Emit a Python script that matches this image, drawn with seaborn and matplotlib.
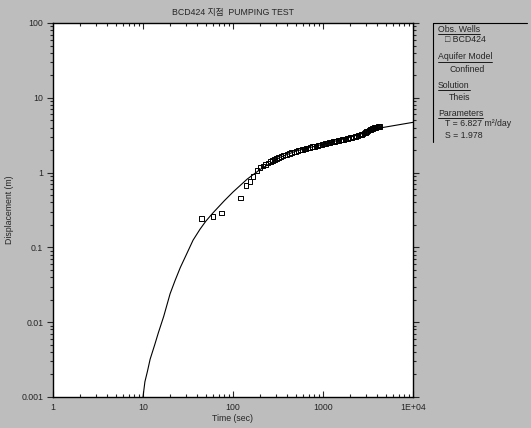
import matplotlib
matplotlib.use("Agg")
import matplotlib.pyplot as plt
from matplotlib.lines import Line2D
from matplotlib.ticker import LogLocator, FixedLocator, FixedFormatter, NullFormatter
import seaborn as sns
import pandas as pd

# observed drawdown (squares)
obs_time = [45, 60, 75, 122, 139, 154, 167, 185, 200, 215, 230, 245, 260, 275, 290,
            305, 320, 340, 360, 380, 400, 425, 450, 475, 500, 530, 560, 590, 620, 650,
            680, 720, 760, 800, 840, 880, 920, 970, 1020, 1070, 1120, 1180, 1240, 1300,
            1360, 1420, 1490, 1560, 1630, 1700, 1780, 1860, 1940, 2020, 2100, 2190, 2280,
            2370, 2460, 2560, 2660, 2760, 2860, 2960, 3060, 3160, 3260, 3360, 3460, 3560,
            3660, 3760, 3860, 3960, 4060, 4160, 4260]
obs_draw = [0.245, 0.26, 0.29, 0.46, 0.67, 0.76, 0.89, 1.06, 1.16, 1.22, 1.29, 1.34, 1.40, 1.44, 1.49,
            1.54, 1.58, 1.63, 1.68, 1.72, 1.76, 1.81, 1.85, 1.89, 1.92, 1.97, 2.01, 2.04, 2.08, 2.11,
            2.14, 2.18, 2.22, 2.25, 2.28, 2.31, 2.34, 2.38, 2.42, 2.45, 2.49, 2.52, 2.56, 2.59,
            2.62, 2.66, 2.69, 2.73, 2.76, 2.79, 2.83, 2.87, 2.90, 2.94, 2.97, 3.01, 3.05,
            3.09, 3.14, 3.19, 3.24, 3.30, 3.38, 3.45, 3.55, 3.62, 3.70, 3.76, 3.82, 3.88,
            3.93, 3.98, 4.02, 4.05, 4.08, 4.10, 4.12]

# Theis type curve
fit_time = [10, 10.5, 11.2, 12, 13.5, 14.8, 17, 20, 22.7, 26, 30, 36, 43, 50, 60, 80,
            100, 144, 200, 333, 500, 776, 1000, 1820, 2800, 4300, 10000]
fit_draw = [0.001, 0.0016, 0.0022, 0.0032, 0.005, 0.0072, 0.012, 0.024, 0.036, 0.054, 0.078,
            0.125, 0.175, 0.225, 0.29, 0.42, 0.55, 0.82, 1.1, 1.6, 1.94, 2.22, 2.4, 2.88,
            3.35, 3.95, 4.7]

x_ticks = [1, 10, 100, 1000, 10000]
x_labels = ["1", "10", "100", "1000", "1E+04"]
y_ticks = [0.001, 0.01, 0.1, 1, 10, 100]
y_labels = ["0.001", "0.01", "0.1", "1", "10", "100"]

legend_text = ["Obs. Wells", "\u25a1 BCD424", "Aquifer Model", "Confined", "Solution",
               "Theis", "Parameters", "T = 6.827 m\u00b2/day", "S = 1.978"]
legend_header = [True, False, True, False, True, False, True, False, False]

obs = pd.DataFrame({"t": obs_time, "s": obs_draw})
fit = pd.DataFrame({"t": fit_time, "s": fit_draw})

sns.set_style("ticks")
plt.rcParams["font.family"] = ["Liberation Sans", "Noto Sans CJK KR", "DejaVu Sans"]
FS = 6.3

W, H = 531, 428
fig = plt.figure(figsize=(W / 100, H / 100), dpi=100)
fig.patch.set_facecolor("#bdbdbd")
ax = fig.add_axes([53 / W, 1 - 397 / H, 360 / W, 374 / H])
ax.set_facecolor("white")

sns.lineplot(data=fit, x="t", y="s", ax=ax, color="black", linewidth=0.8, sort=False)
sns.scatterplot(data=obs, x="t", y="s", ax=ax, marker="s", s=11,
                facecolor="none", edgecolor="black", linewidth=0.7)

ax.set_xscale("log")
ax.set_yscale("log")
ax.set_xlim(1, 10000)
ax.set_ylim(0.001, 100)

ax.xaxis.set_major_locator(FixedLocator(x_ticks))
ax.xaxis.set_major_formatter(FixedFormatter(x_labels))
ax.yaxis.set_major_locator(FixedLocator(y_ticks))
ax.yaxis.set_major_formatter(FixedFormatter(y_labels))
ax.xaxis.set_minor_locator(LogLocator(base=10, subs=range(2, 10)))
ax.yaxis.set_minor_locator(LogLocator(base=10, subs=range(2, 10)))
ax.xaxis.set_minor_formatter(NullFormatter())
ax.yaxis.set_minor_formatter(NullFormatter())

ax.tick_params(axis="x", which="both", direction="in", top=True, labelsize=FS, pad=4, width=0.8)
ax.tick_params(axis="y", which="both", direction="in", right=True, labelsize=FS, pad=3, width=0.8)
ax.tick_params(which="major", length=4)
ax.tick_params(which="minor", length=2.5)
ax.tick_params(axis="y", which="both", left=True, direction="out")
for sp in ax.spines.values():
    sp.set_linewidth(1.0)
    sp.set_color("black")

ax.set_xlabel("Time (sec)", fontsize=FS, labelpad=2)
ax.set_ylabel("Displacement (m)", fontsize=FS, labelpad=5)
ax.set_title("BCD424 지점  PUMPING TEST", fontsize=FS, pad=6)

# legend panel on the right
x0, y0 = 433 / W, 1 - 23 / H
fig.add_artist(Line2D([x0, x0], [y0, 1 - 142 / H], color="black", linewidth=0.8))
fig.add_artist(Line2D([x0, 527 / W], [y0, y0], color="black", linewidth=0.8))
row_y = [29, 40, 57, 69, 85, 97, 113, 124, 135]
indent = {True: 0, False: 7}
fig.canvas.draw()
for text, header, yp in zip(legend_text, legend_header, row_y):
    ind = indent[header] + (4 if text in ("Confined", "Theis") else 0)
    t = fig.text((438 + ind) / W, 1 - yp / H, text, fontsize=FS, va="center", ha="left")
    if header:
        bb = t.get_window_extent(renderer=fig.canvas.get_renderer())
        yl = 1 - (yp + 4.5) / H
        fig.add_artist(Line2D([bb.x0 / W, bb.x1 / W], [yl, yl], color="black", linewidth=0.6))

fig.savefig("out.png", dpi=100, facecolor=fig.get_facecolor())
